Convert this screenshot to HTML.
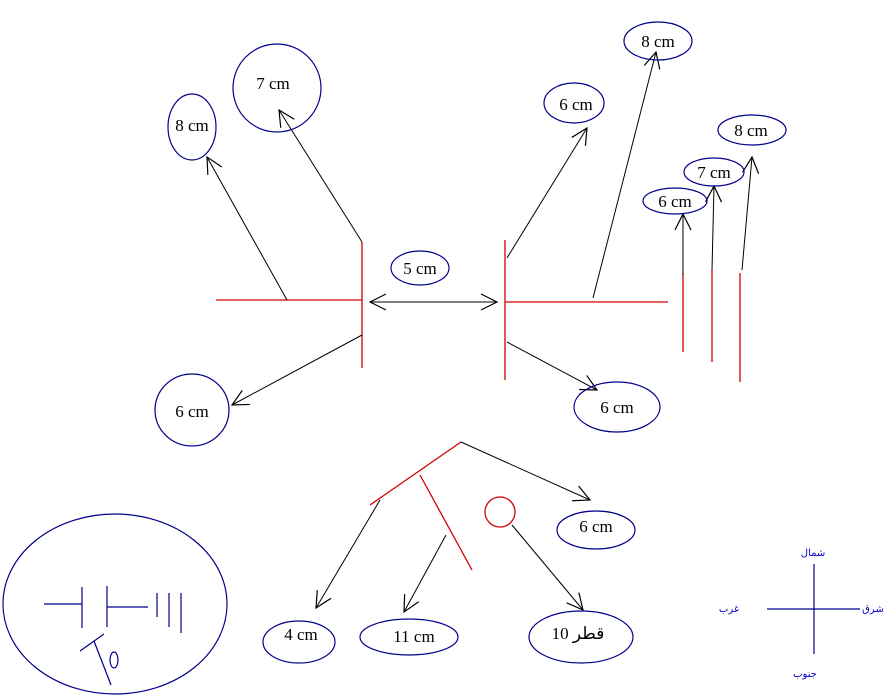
<!DOCTYPE html>
<html><head><meta charset="utf-8"><style>body{margin:0;background:#fff}svg{display:block}text{font-family:"Liberation Serif",serif;font-size:17px;fill:#000}text.ar{fill:#0000cc;font-size:10px;font-family:'DejaVu Sans',sans-serif}</style></head><body>
<svg width="896" height="699" viewBox="0 0 896 699" xmlns="http://www.w3.org/2000/svg">
<defs><marker id="a" viewBox="0 0 20 20" refX="18" refY="10" markerWidth="20" markerHeight="20" markerUnits="userSpaceOnUse" orient="auto-start-reverse"><path d="M2 2 L18 10 L2 18" fill="none" stroke="#000" stroke-width="1.2"/></marker></defs>
<g stroke="#d00000" stroke-width="1.3" fill="none">
<line x1="216" y1="300" x2="362" y2="300"/><line x1="362" y1="242" x2="362" y2="368"/>
<line x1="505" y1="240" x2="505" y2="380"/><line x1="505" y1="302" x2="668" y2="302"/>
<line x1="683" y1="273" x2="683" y2="352"/><line x1="712" y1="270" x2="712" y2="362"/><line x1="740" y1="273" x2="740" y2="382"/>
<line x1="461" y1="442" x2="370" y2="505"/><line x1="420" y1="475" x2="472" y2="570"/>
<circle cx="500" cy="512" r="15"/>
</g>
<g stroke="#000" stroke-width="1" fill="none" marker-end="url(#a)">
<line x1="287" y1="300" x2="207" y2="157"/><line x1="362" y1="242" x2="279" y2="110"/>
<line x1="362" y1="335" x2="232" y2="405"/>
<line x1="370" y1="302" x2="497" y2="302" marker-start="url(#a)"/>
<line x1="507" y1="258" x2="587" y2="128"/><line x1="593" y1="298" x2="656" y2="52"/>
<line x1="507" y1="342" x2="597" y2="390"/>
<line x1="683" y1="275" x2="683" y2="214"/><line x1="712" y1="270" x2="714" y2="186"/>
<line x1="742" y1="270" x2="752" y2="157"/>
<line x1="461" y1="442" x2="590" y2="500"/><line x1="380" y1="500" x2="316" y2="608"/>
<line x1="446" y1="535" x2="404" y2="612"/><line x1="512" y1="525" x2="583" y2="610"/>
</g>
<g stroke="#00008b" stroke-width="1.2" fill="none">
<ellipse cx="192" cy="127" rx="24" ry="33"/><circle cx="277" cy="88" r="44"/>
<ellipse cx="192" cy="410" rx="37" ry="36"/><ellipse cx="420" cy="268" rx="29" ry="17"/>
<ellipse cx="574" cy="103" rx="30" ry="20"/><ellipse cx="658" cy="41" rx="34" ry="19"/>
<ellipse cx="617" cy="407" rx="43" ry="25"/><ellipse cx="675" cy="201" rx="32" ry="13"/>
<ellipse cx="714" cy="172" rx="30" ry="14"/><ellipse cx="752" cy="130" rx="34" ry="15"/>
<ellipse cx="596" cy="530" rx="39" ry="19"/><ellipse cx="299" cy="642" rx="36" ry="21"/>
<ellipse cx="409" cy="637" rx="49" ry="18"/><ellipse cx="581" cy="637" rx="52" ry="26"/>
<ellipse cx="115" cy="604" rx="112" ry="90"/>
<line x1="44" y1="604" x2="82" y2="604"/><line x1="82" y1="587" x2="82" y2="628"/>
<line x1="107" y1="586" x2="107" y2="627"/><line x1="107" y1="607" x2="148" y2="607"/>
<line x1="157" y1="593" x2="157" y2="617"/><line x1="169" y1="593" x2="169" y2="627"/><line x1="181" y1="593" x2="181" y2="633"/>
<line x1="80" y1="651" x2="104" y2="634"/><line x1="94" y1="641" x2="111" y2="685"/>
<ellipse cx="114" cy="660" rx="4" ry="8"/>
<line x1="814" y1="564" x2="814" y2="654"/><line x1="767" y1="609" x2="860" y2="609"/>
</g>
<g text-anchor="middle">
<text x="192" y="131">8 cm</text><text x="273" y="89">7 cm</text><text x="192" y="417">6 cm</text>
<text x="420" y="274">5 cm</text><text x="576" y="110">6 cm</text><text x="658" y="47">8 cm</text>
<text x="617" y="413">6 cm</text><text x="675" y="207">6 cm</text><text x="714" y="178">7 cm</text>
<text x="751" y="136">8 cm</text><text x="596" y="532">6 cm</text><text x="301" y="640">4 cm</text>
<text x="414" y="642">11 cm</text><text x="578" y="639" style="font-family:'Liberation Serif','Noto Sans CJK SC',serif">10 قطر</text>
<text class="ar" x="813" y="556">شمال</text><text class="ar" x="873" y="612">شرق</text>
<text class="ar" x="729" y="612">غرب</text><text class="ar" x="805" y="677">جنوب</text>
</g>
</svg>
</body></html>
